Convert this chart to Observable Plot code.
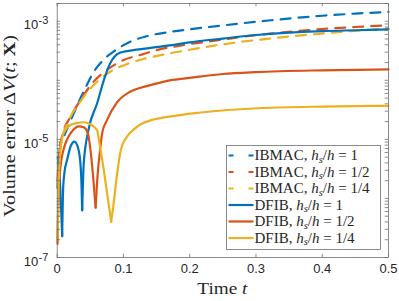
<!DOCTYPE html>
<html>
<head>
<meta charset="utf-8">
<script src="https://cdn.jsdelivr.net/npm/d3@7"></script>
<script src="https://cdn.jsdelivr.net/npm/@observablehq/plot@0.6"></script>
<style>
  html, body { margin: 0; padding: 0; background: white; }
  #chart { width: 399px; height: 301px; }
</style>
</head>
<body>
<div id="chart"></div>
<script>
// ---- data ----
const tIB1 = [0.0005, 0.002, 0.005, 0.0125, 0.0226, 0.0326, 0.0427, 0.0543, 0.0694, 0.088, 0.1095, 0.133, 0.17, 0.2, 0.25, 0.322, 0.4, 0.45, 0.5];
const vIB1 = [1.5e-6, 4e-6, 8e-6, 1.3e-5, 2.4e-5, 4.3e-5, 7.5e-5, 1.34e-4, 2.2e-4, 3.24e-4, 4.47e-4, 5.5e-4, 6.6e-4, 7.3e-4, 8.5e-4, 1.04e-3, 1.24e-3, 1.35e-3, 1.44e-3];

const tIB2 = [0.0005, 0.003, 0.008, 0.02, 0.035, 0.055, 0.075, 0.1, 0.126, 0.148, 0.2, 0.25, 0.287, 0.341, 0.4, 0.45, 0.5];
const vIB2 = [2e-6, 6e-6, 1.2e-5, 2.4e-5, 4.6e-5, 9.5e-5, 1.5e-4, 2.2e-4, 2.7e-4, 3.2e-4, 4.1e-4, 4.9e-4, 5.6e-4, 6.5e-4, 7.4e-4, 8e-4, 8.6e-4];

const tIB4 = [0.0005, 0.003, 0.008, 0.0175, 0.035, 0.055, 0.08, 0.106, 0.13, 0.156, 0.2, 0.239, 0.32, 0.4, 0.45, 0.5];
const vIB4 = [1.5e-6, 5e-6, 1.1e-5, 2.1e-5, 4.4e-5, 8.3e-5, 1.4e-4, 1.9e-4, 2.3e-4, 2.67e-4, 3.3e-4, 3.9e-4, 5.1e-4, 6.2e-4, 6.9e-4, 7.5e-4];

const tDF1 = [0.001, 0.004, 0.0075, 0.009, 0.011, 0.015, 0.02, 0.026, 0.031, 0.035, 0.0365, 0.0377, 0.0401, 0.0472, 0.0603, 0.0703, 0.0795, 0.0864, 0.0955, 0.12, 0.141, 0.17, 0.2, 0.25, 0.3, 0.4, 0.45, 0.5];
const vDF1 = [5e-6, 2e-6, 2.3e-7, 1.5e-6, 2.8e-6, 4.5e-6, 7.5e-6, 9.2e-6, 7.5e-6, 4e-6, 2e-6, 6.3e-7, 4e-6, 1.45e-5, 4.1e-5, 1.0e-4, 1.9e-4, 2.5e-4, 2.95e-4, 3.3e-4, 3.55e-4, 3.9e-4, 4.4e-4, 5.1e-4, 5.85e-4, 6.8e-4, 7.05e-4, 7.3e-4];

const tDF2 = [0.0005, 0.002, 0.005, 0.01, 0.015, 0.022, 0.0327, 0.04, 0.046, 0.05, 0.054, 0.058, 0.061, 0.065, 0.068, 0.075, 0.09, 0.11, 0.126, 0.141, 0.17, 0.2, 0.25, 0.3, 0.4, 0.5];
const vDF2 = [1.7e-7, 1.2e-6, 3.5e-6, 7e-6, 1e-5, 1.35e-5, 1.66e-5, 1.6e-5, 1.3e-5, 7e-6, 2.5e-6, 7e-7, 2.5e-6, 7e-6, 1.3e-5, 2.1e-5, 4.2e-5, 6.4e-5, 7.5e-5, 8.3e-5, 1e-4, 1.1e-4, 1.28e-4, 1.38e-4, 1.48e-4, 1.53e-4];

const tDF4 = [0.0005, 0.002, 0.004, 0.007, 0.01, 0.02, 0.03, 0.04, 0.05, 0.06, 0.065, 0.07, 0.075, 0.0815, 0.085, 0.09, 0.096, 0.105, 0.115, 0.126, 0.141, 0.166, 0.216, 0.31, 0.4, 0.5];
const vDF4 = [2e-7, 1.5e-6, 5e-6, 1e-5, 1.3e-5, 1.75e-5, 1.9e-5, 1.95e-5, 1.8e-5, 1.45e-5, 7e-6, 3.2e-6, 1.3e-6, 4e-7, 7.9e-7, 2.4e-6, 6.6e-6, 1.1e-5, 1.45e-5, 1.8e-5, 2.1e-5, 2.4e-5, 2.85e-5, 3.4e-5, 3.6e-5, 3.7e-5];

const legendMethods = ["IBMAC", "IBMAC", "IBMAC", "DFIB", "DFIB", "DFIB"];
const legendRatios = ["1", "1/2", "1/4", "1", "1/2", "1/4"];
const seriesColors = ["#0072BD", "#D95319", "#EDB120", "#0072BD", "#D95319", "#EDB120"];
const seriesDashed = [true, true, true, false, false, false];
const seriesT = [tIB1, tIB2, tIB4, tDF1, tDF2, tDF4];
const seriesV = [vIB1, vIB2, vIB4, vDF1, vDF2, vDF4];

const xTicks = [0, 0.1, 0.2, 0.3, 0.4, 0.5];
const xTickLabels = ["0", "0.1", "0.2", "0.3", "0.4", "0.5"];
const yMajor = [1e-7, 1e-6, 1e-5, 1e-4, 1e-3];
const yLabelTicks = [1e-7, 1e-5, 1e-3];
const yLabelExp = ["-7", "-5", "-3"];

// ---- layout ----
const W = 399, H = 301;
const mL = 56.7, mR = 11, mT = 3, mB = 44;
const plotW = W - mL - mR, plotH = H - mT - mB;
const tickLen = 3.3;
const axisColor = "#262626";
const boxColor = "#6e6e6e";

const yMinor = [];
for (const d of yMajor) for (let k = 2; k <= 9; k++) { const v = d * k; if (v <= 2e-3) yMinor.push(v); }

// split each series at its local minima (the sharp cusps) so that each
// smooth piece can use a monotone curve while the cusps stay sharp
function pieces(ts, vs) {
  const out = [];
  let seg = 0;
  for (let j = 0; j < ts.length; j++) {
    out.push({t: ts[j], v: vs[j], seg});
    const isMin = j > 0 && j < ts.length - 1 && vs[j] < vs[j - 1] && vs[j] < vs[j + 1];
    if (isMin) { seg++; out.push({t: ts[j], v: vs[j], seg}); }
  }
  return out;
}
const rows = seriesT.map((ts, i) => pieces(ts, seriesV[i]));

const lineMarks = rows.map((r, i) => Plot.line(r, {
  x: "t", y: "v", z: "seg", stroke: seriesColors[i], strokeWidth: 2.2,
  strokeDasharray: seriesDashed[i] ? "10,8" : null, curve: "monotone-x"
}));

const chart = Plot.plot({
  width: W, height: H,
  marginLeft: mL, marginRight: mR, marginTop: mT, marginBottom: mB,
  x: {domain: [0, 0.5], axis: null},
  y: {type: "log", domain: [1e-7, 2e-3], axis: null},
  style: {background: "white", fontFamily: "'Liberation Sans', Arial, sans-serif", color: axisColor},
  marks: [
    ...lineMarks,
    Plot.frame({stroke: boxColor, strokeWidth: 0.8}),
    Plot.tickX(xTicks, {x: d => d, insetTop: plotH - tickLen, stroke: boxColor, strokeWidth: 0.8}),
    Plot.tickX(xTicks, {x: d => d, insetBottom: plotH - tickLen, stroke: boxColor, strokeWidth: 0.8}),
    Plot.tickY(yMajor.concat(yMinor), {y: d => d, insetRight: plotW - tickLen, stroke: boxColor, strokeWidth: 0.8}),
    Plot.tickY(yMajor.concat(yMinor), {y: d => d, insetLeft: plotW - tickLen, stroke: boxColor, strokeWidth: 0.8}),
    Plot.text(xTicks, {x: d => d, text: (d, i) => xTickLabels[i], frameAnchor: "bottom", dy: 15, fontSize: 13, fill: axisColor}),
    Plot.text(yLabelTicks, {y: d => d, text: () => "10", frameAnchor: "left", textAnchor: "end", dx: -19, dy: 4, fontSize: 13, fill: axisColor}),
    Plot.text(yLabelTicks, {y: d => d, text: (d, i) => yLabelExp[i], frameAnchor: "left", textAnchor: "start", dx: -18.6, dy: -0.5, fontSize: 11, fill: axisColor})
  ]
});

document.getElementById("chart").appendChild(chart);

// ---- axis titles with math styling ----
const svg = d3.select(chart);
const serif = "'Liberation Serif', 'Times New Roman', serif";

// stretch a title along its own direction so it spans the target length
function stretch(sel, base, target) {
  const len = sel.node().getComputedTextLength();
  const sx = len > 0 ? target / len : 1;
  sel.attr("transform", `${base} scale(${sx},1)`);
}

const xl = svg.append("text").attr("x", 0).attr("y", 0)
  .attr("text-anchor", "middle").attr("font-family", serif).attr("font-size", 16.5).attr("fill", axisColor);
xl.append("tspan").text("Time ");
xl.append("tspan").attr("font-style", "italic").text("t");
stretch(xl, `translate(${mL + plotW / 2},294)`, 50);

const yl = svg.append("text").attr("x", 0).attr("y", 0)
  .attr("text-anchor", "middle").attr("font-family", serif).attr("font-size", 16.5).attr("fill", axisColor);
yl.append("tspan").text("Volume error \u0394");
yl.append("tspan").attr("font-style", "italic").text("V");
yl.append("tspan").text("(");
yl.append("tspan").attr("font-style", "italic").text("t");
yl.append("tspan").text("; ");
yl.append("tspan").attr("font-weight", "bold").text("X");
yl.append("tspan").text(")");
stretch(yl, `translate(15,126) rotate(-90)`, 182);

// ---- legend ----
const lg = svg.append("g");
const lgX = 226.5, lgY = 145.5, lgW = 154, lgH = 104, rowH = 16.5;
lg.append("rect").attr("x", lgX).attr("y", lgY).attr("width", lgW).attr("height", lgH)
  .attr("fill", "white").attr("stroke", boxColor).attr("stroke-width", 0.8);
legendMethods.forEach((m, i) => {
  const cy = lgY + 10 + i * rowH;
  lg.append("line").attr("x1", lgX + 2).attr("x2", lgX + 27).attr("y1", cy).attr("y2", cy)
    .attr("stroke", seriesColors[i]).attr("stroke-width", 2.2)
    .attr("stroke-dasharray", seriesDashed[i] ? "5,15" : null);
  const tx = lg.append("text").attr("x", lgX + 28).attr("y", cy + 4.5)
    .attr("text-anchor", "start")
    .attr("font-family", serif).attr("font-size", 15).attr("fill", axisColor);
  tx.append("tspan").text(m + ", ");
  tx.append("tspan").attr("font-style", "italic").text("h");
  tx.append("tspan").attr("font-style", "italic").attr("font-size", 10.5).attr("dy", 2.5).text("s");
  tx.append("tspan").attr("dy", -2.5).text("/");
  tx.append("tspan").attr("font-style", "italic").text("h");
  tx.append("tspan").text(" = " + legendRatios[i]);
});
</script>
</body>
</html>
